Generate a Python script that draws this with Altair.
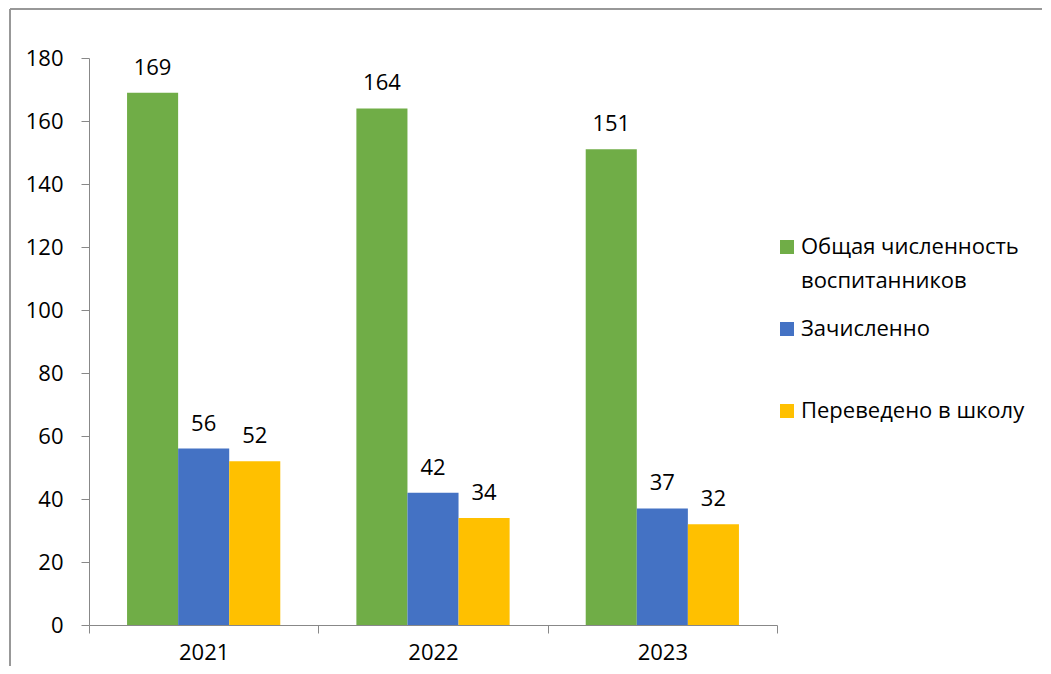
import altair as alt
import pandas as pd

years = ["2021", "2022", "2023"]
series = ["Общая численность воспитанников", "Зачисленно", "Переведено в школу"]
total = [169, 164, 151]
enrolled = [56, 42, 37]
to_school = [52, 34, 32]
colors = ["#70AD47", "#4472C4", "#FFC000"]

rows = []
for i, y in enumerate(years):
    for s, vals in zip(series, [total, enrolled, to_school]):
        rows.append({"year": y, "series": s, "value": vals[i]})
df = pd.DataFrame(rows)

FONT = "Open Sans"

x = alt.X("year:N", title=None, sort=years,
          scale=alt.Scale(paddingInner=0, paddingOuter=0),
          axis=alt.Axis(labelAngle=0, tickBand="extent", labelFontSize=22, labelFont=FONT,
                        labelColor="#000000", domainColor="#888888", tickColor="#888888",
                        tickSize=8, labelPadding=9, grid=False))
xo = alt.XOffset("series:N", sort=series, scale=alt.Scale(paddingInner=0, paddingOuter=0.745))

bars = alt.Chart(df).mark_bar().encode(
    x=x,
    xOffset=xo,
    y=alt.Y("value:Q", title=None,
            scale=alt.Scale(domain=[0, 180]),
            axis=alt.Axis(values=list(range(0, 181, 20)), grid=False, labelFontSize=22,
                          labelFont=FONT, labelColor="#000000", domainColor="#888888",
                          tickColor="#888888", tickSize=8, labelPadding=18)),
    color=alt.Color("series:N", sort=series,
                    scale=alt.Scale(domain=series, range=colors),
                    legend=alt.Legend(title=None, orient="none", legendX=687, legendY=178,
                                      symbolType="square", symbolSize=196, symbolStrokeWidth=0,
                                      labelFontSize=22, labelFont=FONT, labelColor="#000000",
                                      labelLimit=400, rowPadding=26, labelOffset=3,
                                      labelExpr="datum.label == 'Общая численность воспитанников' ? ['Общая численность', 'воспитанников'] : [datum.label, ' ']")),
)

labels = alt.Chart(df).mark_text(baseline="alphabetic", dy=-18, fontSize=22, font=FONT,
                                 color="#000000").encode(
    x=alt.X("year:N", sort=years),
    xOffset=xo,
    y="value:Q",
    text="value:Q",
)

frame_left = alt.Chart(df).mark_rule(color="#999999", strokeWidth=1.5).encode(
    x=alt.value(-79), y=alt.value(-49), y2=alt.value(700))
frame_top = alt.Chart(df).mark_rule(color="#999999", strokeWidth=1.5).encode(
    x=alt.value(-79), x2=alt.value(1100), y=alt.value(-49))

chart = alt.layer(bars, labels, frame_left, frame_top).properties(
    width=688, height=567,
    autosize=alt.AutoSizeParams(type="none"),
    padding={"left": 81, "top": 50, "right": 265, "bottom": 41},
).configure(
    background="white",
    style={"guide-label": {"lineHeight": 34}},
).configure_view(stroke=None)

chart.save("out.html", embed_options={"renderer": "svg", "actions": False})
